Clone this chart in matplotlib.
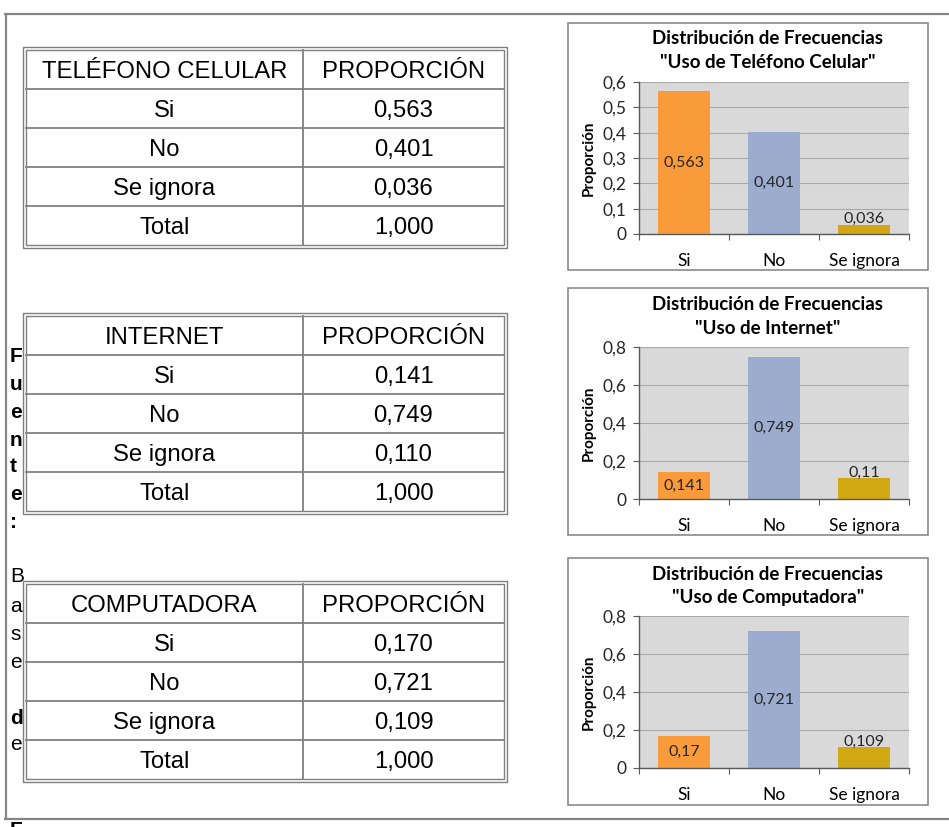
import matplotlib
matplotlib.use("Agg")
import matplotlib.pyplot as plt
from matplotlib.patches import Rectangle

# ---------------- data ----------------
categories = ["Si", "No", "Se ignora"]
total_label = "Total"

tel_header = "TELÉFONO CELULAR"
tel_values = [0.563, 0.401, 0.036]
tel_total = 1.000

int_header = "INTERNET"
int_values = [0.141, 0.749, 0.110]
int_total = 1.000

comp_header = "COMPUTADORA"
comp_values = [0.170, 0.721, 0.109]
comp_total = 1.000

col2_header = "PROPORCIÓN"
chart_title = "Distribución de Frecuencias"
chart_subtitles = ['"Uso de Teléfono Celular"', '"Uso de Internet"', '"Uso de Computadora"']
y_label = "Proporción"
y_ticks_tel = [0, 0.1, 0.2, 0.3, 0.4, 0.5, 0.6]
y_ticks_other = [0, 0.2, 0.4, 0.6, 0.8]

source_top = ["F", "u", "e", "n", "t", "e", ":"]
source_bottom = ["B", "a", "s", "e", "d", "e"]

bar_colors = ["#F99B3A", "#9BACCF", "#D2A812"]

# ---------------- layout ----------------
W, H = 949, 827
fig = plt.figure(figsize=(W / 100, H / 100), dpi=100)
bg = fig.add_axes([0, 0, 1, 1])
bg.set_xlim(0, W)
bg.set_ylim(H, 0)
bg.axis("off")

PX = 0.72  # points per pixel
frame_col = "#858585"

# outer frame
bg.plot([4, W], [14, 14], color=frame_col, lw=2.2 * PX, solid_capstyle="butt")
bg.plot([6, 6], [14, 819], color=frame_col, lw=2.2 * PX, solid_capstyle="butt")
bg.plot([4, W], [819, 819], color=frame_col, lw=2.2 * PX, solid_capstyle="butt")

# vertical "Fuente: Base de" text
src_font = "Liberation Sans"
top_y = [357, 384, 412, 440, 467, 495, 522]
for ch, yy in zip(source_top, top_y):
    bg.text(10, yy, ch, ha="left", va="center", fontsize=15, fontweight="bold",
            family=src_font, color="black")
bot_y = [576, 606, 634, 662, 718, 745]
bot_bold = [False, False, False, False, True, False]
for ch, yy, b in zip(source_bottom, bot_y, bot_bold):
    bg.text(10, yy, ch, ha="left", va="center", fontsize=15,
            fontweight="bold" if b else "normal", family=src_font, color="black")
bg.text(10, 821, "F", ha="left", va="top", fontsize=15, fontweight="bold",
        family=src_font, color="black")

# ---------------- tables ----------------
tab_left_o, tab_left_i = 23, 26
tab_right_o, tab_right_i = 507, 504
col_div = 303
row_h = 39
line_col = "#808080"


def fmt3(v):
    return f"{v:.3f}".replace(".", ",")


def draw_table(top, header, values, total):
    inner_top = top + 3
    inner_bot = inner_top + 5 * row_h
    outer_bot = inner_bot + 3
    bg.add_patch(Rectangle((tab_left_o, top), tab_right_o - tab_left_o, outer_bot - top,
                           fill=False, ec=line_col, lw=1.4 * PX))
    bg.add_patch(Rectangle((tab_left_i, inner_top), tab_right_i - tab_left_i, inner_bot - inner_top,
                           fill=False, ec=line_col, lw=1.4 * PX))
    for k in range(1, 5):
        yy = inner_top + k * row_h
        bg.plot([tab_left_i, tab_right_i], [yy, yy], color=line_col, lw=1.8 * PX)
    bg.plot([col_div, col_div], [inner_top, inner_bot], color=line_col, lw=1.8 * PX)
    c1 = (tab_left_i + col_div) / 2
    c2 = (col_div + tab_right_i) / 2
    rows = [(header, col2_header)] + [(c, fmt3(v)) for c, v in zip(categories, values)] + \
           [(total_label, fmt3(total))]
    for k, (a, b) in enumerate(rows):
        yy = inner_top + (k + 0.5) * row_h + 2.5
        bg.text(c1, yy, a, ha="center", va="center", fontsize=17.2, family="Liberation Sans")
        bg.text(c2, yy, b, ha="center", va="center", fontsize=17.2, family="Liberation Sans")


draw_table(47, tel_header, tel_values, tel_total)
draw_table(313, int_header, int_values, int_total)
draw_table(581, comp_header, comp_values, comp_total)

# ---------------- charts ----------------
chart_font = "Lato"


def fmt_label(v):
    s = f"{v:.3f}".rstrip("0").rstrip(".")
    return s.replace(".", ",")


def fmt_tick(v):
    s = f"{v:.1f}".rstrip("0").rstrip(".")
    return s.replace(".", ",")


def px_rect(l, t, r, b):
    return [l / W, 1 - b / H, (r - l) / W, (b - t) / H]


def draw_chart(box_top, plot_top, plot_bot, subtitle, values, ticks):
    box_bot = box_top + 247
    bg.add_patch(Rectangle((568, box_top), 928 - 568, box_bot - box_top,
                           fc="white", ec="#868686", lw=1.6 * PX))
    bg.text(768, box_top + 16, chart_title, ha="center", va="center", fontsize=13.5,
            fontweight="bold", family=chart_font, color="black")
    bg.text(768, box_top + 40, subtitle, ha="center", va="center", fontsize=13.5,
            fontweight="bold", family=chart_font, color="black")
    bg.text(589, (plot_top + plot_bot) / 2, y_label, ha="center", va="center", rotation=90,
            fontsize=11, fontweight="bold", family=chart_font, color="black")

    ax = fig.add_axes(px_rect(639, plot_top, 909, plot_bot))
    ax.set_facecolor("#D9D9D9")
    x = list(range(len(categories)))
    ax.bar(x, values, width=0.58, color=bar_colors, zorder=3)
    ax.set_xlim(-0.5, 2.5)
    ax.set_ylim(ticks[0], ticks[-1])
    ax.set_yticks(ticks)
    ax.set_yticklabels([fmt_tick(t) for t in ticks], family=chart_font, fontsize=12.5,
                       color="#262626")
    ax.grid(axis="y", color="#A9A9A9", lw=0.8, zorder=1)
    ax.set_xticks([-0.5, 0.5, 1.5, 2.5])
    ax.set_xticklabels([])
    ax.set_xticks(x, minor=True)
    ax.set_xticklabels(categories, minor=True, family=chart_font, fontsize=12.5,
                       color="black")
    ax.tick_params(axis="x", which="major", direction="out", length=4, color="#595959")
    ax.tick_params(axis="x", which="minor", length=0, pad=13.5)
    ax.tick_params(axis="y", direction="out", length=4, color="#595959", pad=5)
    for s in ("top", "right"):
        ax.spines[s].set_visible(False)
    for s in ("left", "bottom"):
        ax.spines[s].set_color("#595959")
        ax.spines[s].set_linewidth(1.0)
    ax.spines["bottom"].set_zorder(4)
    for i, v in enumerate(values):
        if i < 2:
            ax.text(x[i], v / 2, fmt_label(v), ha="center", va="center",
                    family=chart_font, fontsize=11.5, color="#262626", zorder=5)
        else:
            ax.annotate(fmt_label(v), (x[i], v), xytext=(0, -1), textcoords="offset points",
                        ha="center", va="bottom", family=chart_font, fontsize=11.5,
                        color="#262626", zorder=5)
    return ax


draw_chart(23, 82, 234, chart_subtitles[0], tel_values, y_ticks_tel)
draw_chart(288, 347, 499, chart_subtitles[1], int_values, y_ticks_other)
draw_chart(558, 616, 768, chart_subtitles[2], comp_values, y_ticks_other)

fig.savefig("out.png", dpi=100)
